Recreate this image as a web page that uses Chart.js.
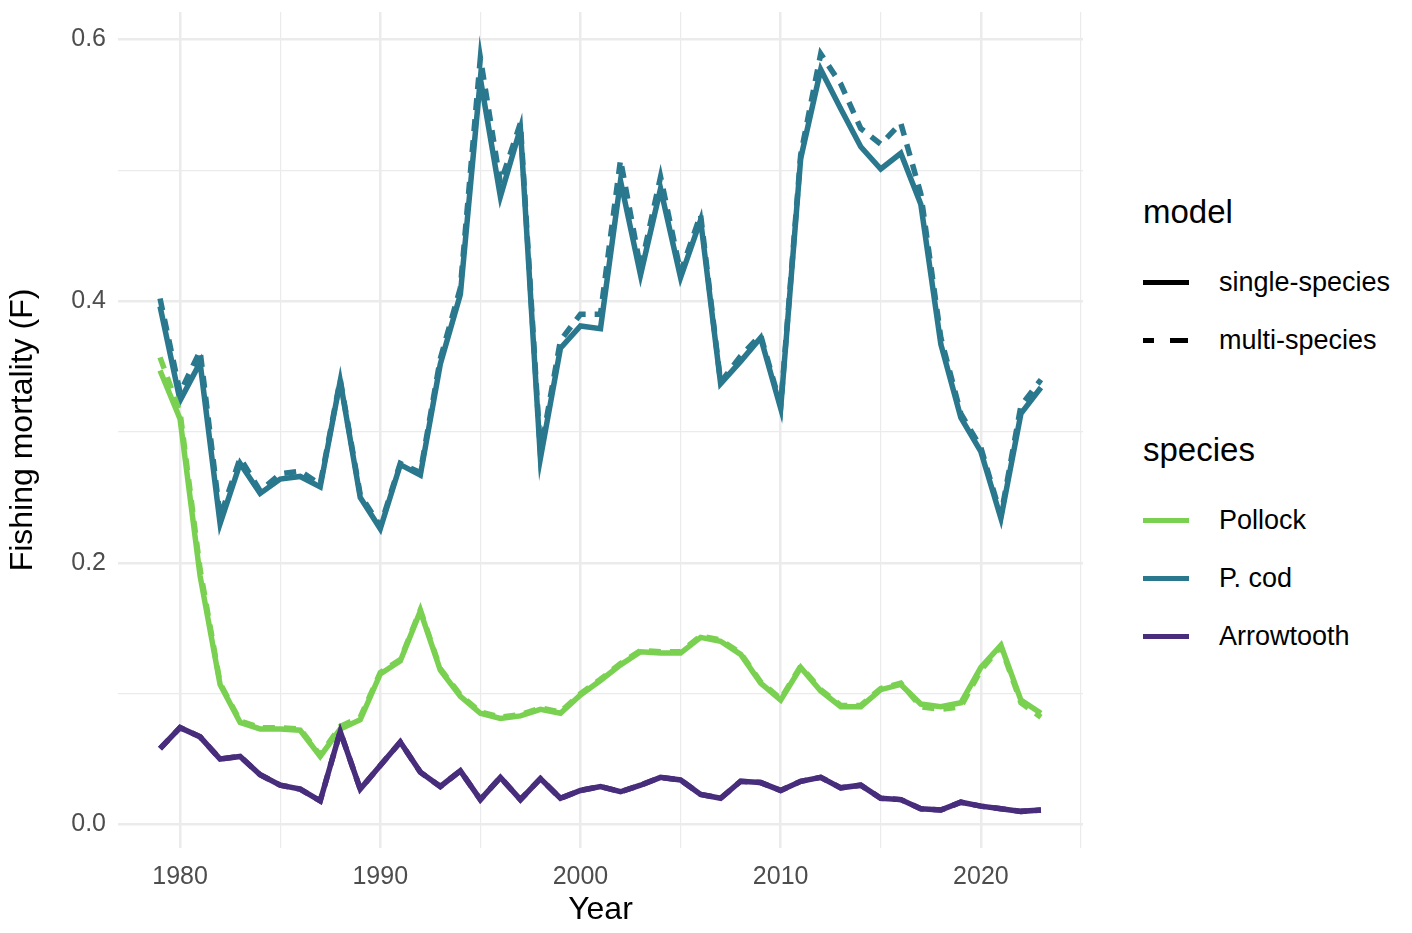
<!DOCTYPE html>
<html><head><meta charset="utf-8">
<script src="https://cdn.jsdelivr.net/npm/chart.js@4/dist/chart.umd.min.js"></script>
<style>
body{margin:0;background:#fff;font-family:"Liberation Sans",Arial,sans-serif;overflow:hidden;}
#wrap{position:absolute;left:0;top:-15px;width:1095px;height:948px;}
#legend{position:absolute;left:1143px;top:193px;color:#000;}
.t{font-size:33px;margin-bottom:22px;}
.row{display:flex;align-items:center;height:58px;font-size:27px;}
.sw{width:46px;height:0;border-top:5px solid #000;margin-right:30px;}
</style></head><body>
<div id="wrap"><canvas id="c"></canvas></div>
<div id="legend">
 <div class="t">model</div>
 <div class="row"><div class="sw"></div>single-species</div>
 <div class="row"><div class="sw" style="border-top:5px dashed #000;border-image:repeating-linear-gradient(90deg,#000 0 14px,transparent 14px 26px) 5"></div>multi-species</div>
 <div class="t" style="margin-top:62px">species</div>
 <div class="row"><div class="sw" style="border-color:#7AD151"></div>Pollock</div>
 <div class="row"><div class="sw" style="border-color:#2A788E"></div>P. cod</div>
 <div class="row"><div class="sw" style="border-color:#472D7B"></div>Arrowtooth</div>
</div>
<script>
const years = [];
for (let y = 1979; y <= 2023; y++) years.push(y);

const codSingle = [0.396,0.324,0.353,0.230,0.276,0.253,0.264,0.266,0.258,0.339,0.250,0.226,0.275,0.267,0.352,0.405,0.570,0.480,0.532,0.280,0.364,0.381,0.379,0.492,0.420,0.486,0.418,0.462,0.337,0.354,0.372,0.318,0.509,0.577,0.547,0.518,0.501,0.513,0.474,0.367,0.311,0.285,0.234,0.314,0.334];
const codMulti = [0.402,0.330,0.362,0.235,0.280,0.255,0.268,0.270,0.260,0.340,0.252,0.228,0.276,0.269,0.356,0.410,0.586,0.490,0.536,0.284,0.370,0.390,0.390,0.508,0.425,0.495,0.422,0.466,0.338,0.358,0.374,0.320,0.512,0.589,0.566,0.532,0.520,0.536,0.482,0.372,0.314,0.288,0.236,0.320,0.340];
const pollockSingle = [0.347,0.310,0.190,0.107,0.078,0.073,0.073,0.072,0.052,0.073,0.080,0.115,0.125,0.163,0.118,0.098,0.085,0.081,0.083,0.088,0.085,0.099,0.110,0.122,0.132,0.131,0.131,0.143,0.140,0.130,0.108,0.095,0.120,0.102,0.090,0.090,0.103,0.107,0.092,0.090,0.093,0.120,0.137,0.095,0.085];
const pollockMulti = [0.357,0.315,0.195,0.108,0.079,0.074,0.074,0.073,0.053,0.075,0.082,0.116,0.126,0.164,0.119,0.099,0.086,0.082,0.084,0.089,0.086,0.100,0.111,0.123,0.133,0.132,0.132,0.144,0.141,0.131,0.109,0.096,0.121,0.103,0.091,0.091,0.104,0.108,0.090,0.088,0.090,0.118,0.136,0.093,0.082];
const arrowSingle = [0.058,0.074,0.067,0.050,0.052,0.038,0.030,0.027,0.018,0.071,0.027,0.045,0.063,0.040,0.029,0.041,0.019,0.036,0.019,0.035,0.020,0.026,0.029,0.025,0.030,0.036,0.034,0.023,0.020,0.033,0.032,0.026,0.033,0.036,0.028,0.030,0.020,0.019,0.012,0.011,0.017,0.014,0.012,0.010,0.011];
const arrowMulti = arrowSingle.slice();

const COL = {pollock:'#7AD151', cod:'#2A788E', arrow:'#472D7B'};
function ds(vals, color, dashed) {
  return {data: vals.map((v, i) => ({x: years[i], y: v})), borderColor: color,
    borderWidth: 5.5, pointRadius: 0, borderDash: dashed ? [12, 9] : [], fill: false, tension: 0};
}

new Chart(document.getElementById('c'), {
  type: 'line',
  data: {datasets: [
    ds(arrowMulti, COL.arrow, true), ds(arrowSingle, COL.arrow, false),
    ds(pollockMulti, COL.pollock, true), ds(pollockSingle, COL.pollock, false),
    ds(codMulti, COL.cod, true), ds(codSingle, COL.cod, false)
  ]},
  options: {
    responsive: true, maintainAspectRatio: false, animation: false,
    layout: {padding: {top: 0, right: 10, left: 0, bottom: 0}},
    plugins: {legend: {display: false}, tooltip: {enabled: false}},
    scales: {
      x: {type: 'linear', min: 1976.9, max: 2025.1,
        afterBuildTicks: s => { s.ticks = [1980,1985,1990,1995,2000,2005,2010,2015,2020,2025].map(v => ({value: v})); },
        afterFit: s => { s.height = 85; },
        grid: {color: '#ebebeb', lineWidth: c => (c.tick && c.tick.value % 10 === 0) ? 2.5 : 1.2, drawTicks: false},
        border: {display: false},
        ticks: {padding: 14, color: '#4d4d4d', font: {size: 25, family: 'Liberation Sans'},
          callback: v => v % 10 === 0 && v !== 2025 ? v : ''},
        title: {display: true, text: 'Year', color: '#000', font: {size: 32, family: 'Liberation Sans'}, padding: {top: 0}}
      },
      y: {min: -0.018, max: 0.621,
        afterBuildTicks: s => { s.ticks = [0,0.1,0.2,0.3,0.4,0.5,0.6].map(v => ({value: v})); },
        afterFit: s => { s.width = 118; },
        grid: {color: '#ebebeb', lineWidth: c => (c.tick && Math.round(c.tick.value * 10) % 2 === 0) ? 2.5 : 1.2, drawTicks: false},
        border: {display: false},
        ticks: {padding: 12, color: '#4d4d4d', font: {size: 25, family: 'Liberation Sans'},
          callback: v => Math.round(v * 10) % 2 === 0 ? v.toFixed(1) : ''},
        title: {display: true, text: 'Fishing mortality (F)', color: '#000', font: {size: 32, family: 'Liberation Sans'}, padding: {bottom: 4}}
      }
    }
  }
});
</script>
</body></html>
